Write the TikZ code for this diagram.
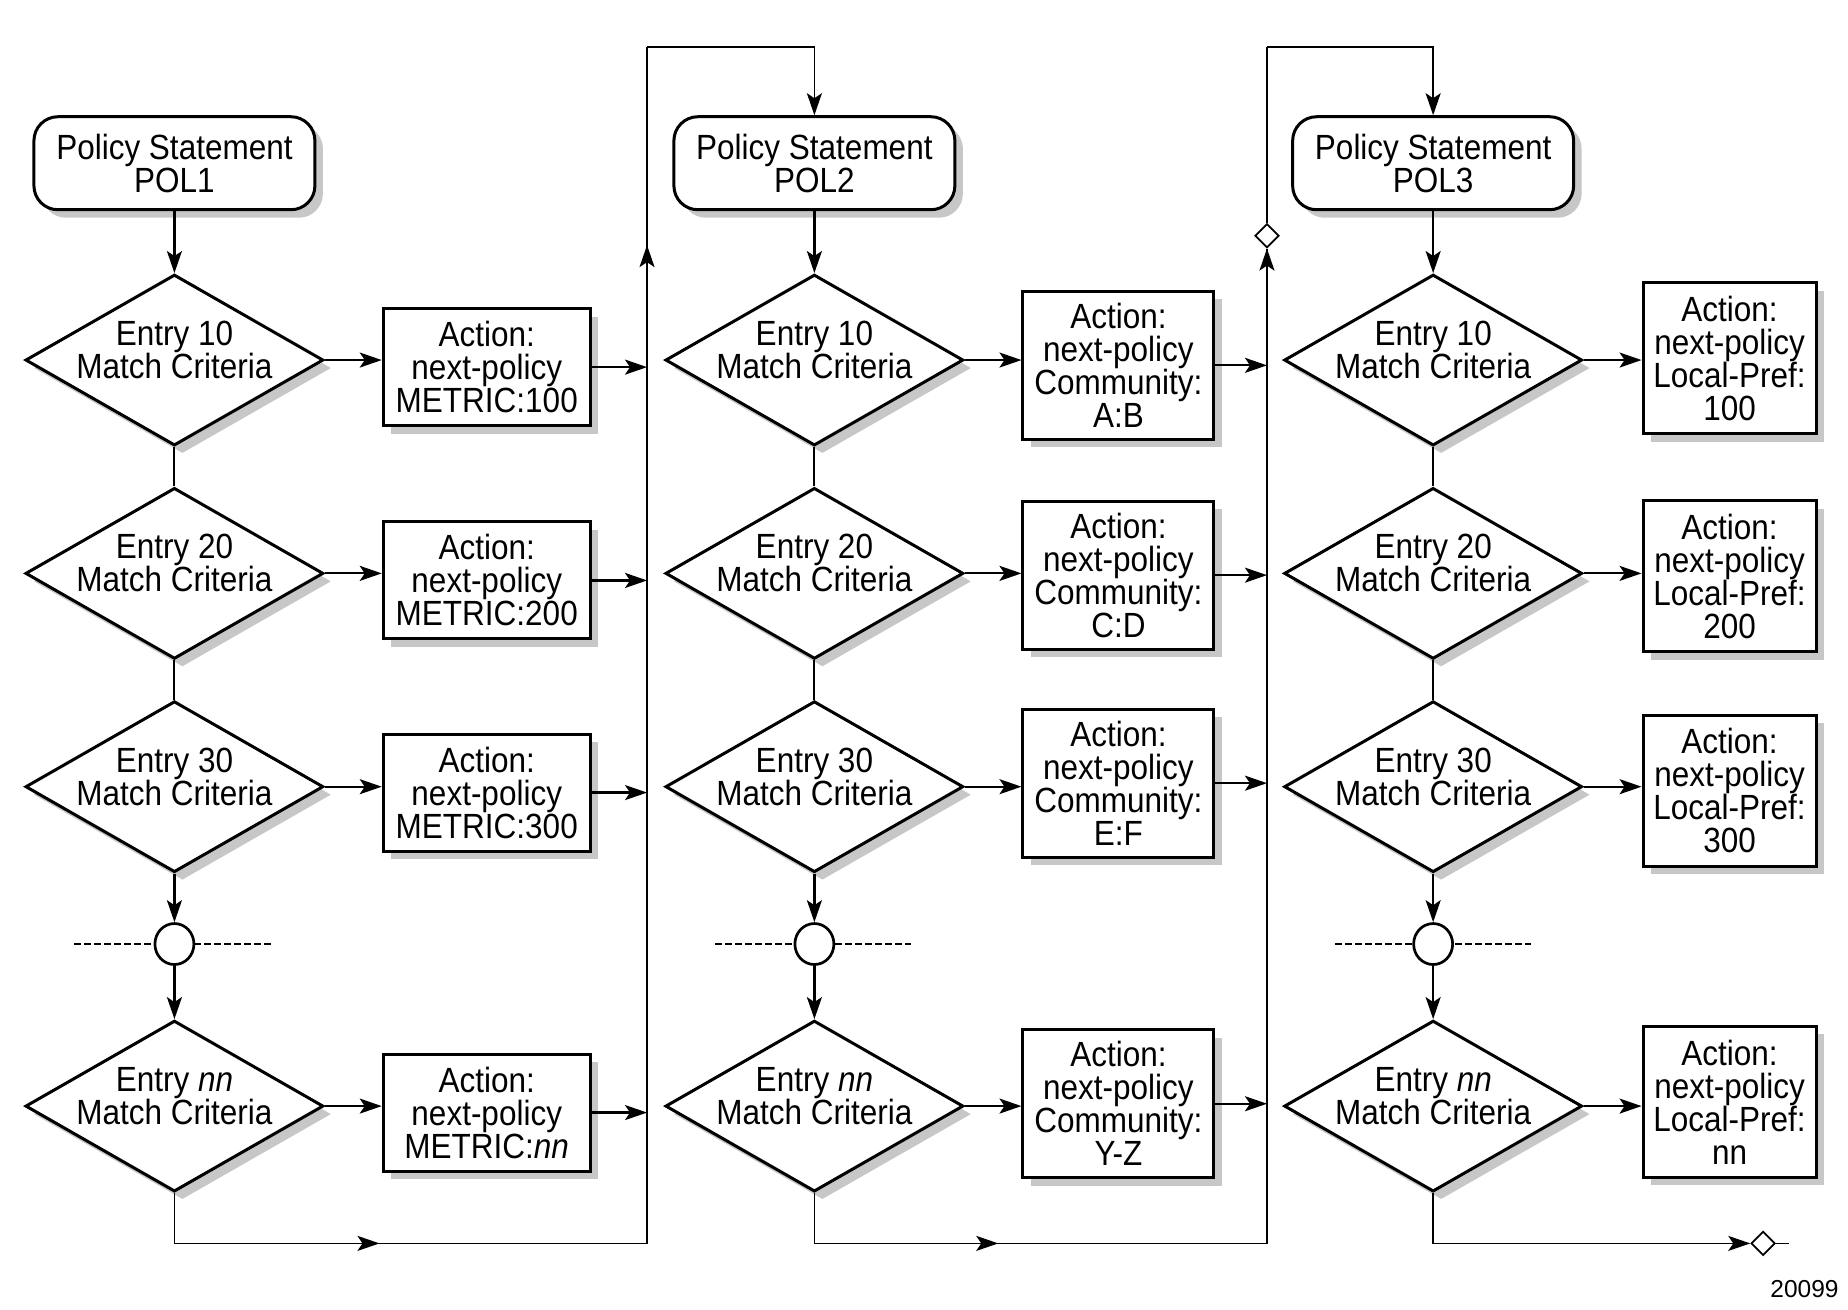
\documentclass[tikz,border=0pt]{standalone}
\usepackage{fontspec}
\setmainfont{Liberation Sans}[FakeStretch=0.9]
\newfontfamily\plainfont{Liberation Sans}
\usetikzlibrary{shapes.geometric,arrows.meta,shadows}
\begin{document}
\begin{tikzpicture}[x=1.1786pt,y=-1.1786pt,
  every node/.style={font=\fontsize{35}{33}\selectfont},
  shad/.style={drop shadow={shadow xshift=8pt,shadow yshift=-8pt,fill=black!22,opacity=1}},
  polbox/.style={draw,line width=3pt,rounded corners=24pt,minimum width=281pt,minimum height=93pt,align=center,fill=white,shad},
  dia/.style={draw,diamond,line width=3pt,minimum width=298pt,minimum height=171pt,inner sep=0pt,fill=white,shad},
  boxa/.style={draw,line width=3pt,minimum width=207pt,minimum height=117pt,align=center,fill=white,shad,inner sep=2pt},
  boxb/.style={draw,line width=3pt,minimum width=191pt,minimum height=148pt,align=center,fill=white,shad,inner sep=2pt},
  boxc/.style={draw,line width=3pt,minimum width=173pt,minimum height=151pt,align=center,fill=white,shad,inner sep=2pt},
  conn/.style={draw,ellipse,line width=2.7pt,minimum width=39pt,minimum height=41pt,inner sep=0pt,fill=white},
  smalldia/.style={draw,diamond,line width=1.8pt,minimum width=24pt,minimum height=24pt,inner sep=0pt,fill=white},
  tip/.style={-{Stealth[length=22pt,width=15pt,inset=5pt]}},
  arr/.style={tip,line width=2.2pt},
  lnk/.style={line width=2pt},
  thinl/.style={line width=1.8pt},
  thinarr/.style={tip,line width=1.8pt},
  dashline/.style={line width=2pt,dash pattern=on 6.5pt off 3.5pt}
]
\useasboundingbox (0,0) rectangle (1568,1110.7);

% ---------- Column 1 ----------
\node[polbox] (p1) at (148,138.5) {Policy Statement\\POL1};
\node[dia,label={[align=center,yshift=10pt]center:{Entry 10\\Match Criteria}}] (d11) at (148,305.5) {};
\node[dia,label={[align=center,yshift=10pt]center:{Entry 20\\Match Criteria}}] (d12) at (148,486.5) {};
\node[dia,label={[align=center,yshift=10pt]center:{Entry 30\\Match Criteria}}] (d13) at (148,667.5) {};
\node[dia,label={[align=center,yshift=10pt]center:{Entry \textit{nn}\\Match Criteria}}] (d14) at (148,938.5) {};
\node[boxa] (a11) at (413,311.5) {Action:\\next-policy\\METRIC:100};
\node[boxa] (a12) at (413,492.5) {Action:\\next-policy\\METRIC:200};
\node[boxa] (a13) at (413,672.5) {Action:\\next-policy\\METRIC:300};
\node[boxa] (a14) at (413,944) {Action:\\next-policy\\METRIC:\textit{nn}};
\coordinate (l1) at (63,801);
\coordinate (r1) at (230,801);
\draw[dashline] (l1) -- (r1);
\node[conn] (c1) at (148,801) {};

% ---------- Column 2 ----------
\node[polbox] (p2) at (691,138.5) {Policy Statement\\POL2};
\node[dia,label={[align=center,yshift=10pt]center:{Entry 10\\Match Criteria}}] (d21) at (691,305.5) {};
\node[dia,label={[align=center,yshift=10pt]center:{Entry 20\\Match Criteria}}] (d22) at (691,486.5) {};
\node[dia,label={[align=center,yshift=10pt]center:{Entry 30\\Match Criteria}}] (d23) at (691,667.5) {};
\node[dia,label={[align=center,yshift=10pt]center:{Entry \textit{nn}\\Match Criteria}}] (d24) at (691,938.5) {};
\node[boxb] (a21) at (949,310) {Action:\\next-policy\\Community:\\A:B};
\node[boxb] (a22) at (949,488) {Action:\\next-policy\\Community:\\C:D};
\node[boxb] (a23) at (949,664.5) {Action:\\next-policy\\Community:\\E:F};
\node[boxb] (a24) at (949,936.5) {Action:\\next-policy\\Community:\\Y-Z};
\coordinate (l2) at (607,801);
\coordinate (r2) at (773,801);
\draw[dashline] (l2) -- (r2);
\node[conn] (c2) at (691,801) {};

% ---------- Column 3 ----------
\node[polbox] (p3) at (1216,138.5) {Policy Statement\\POL3};
\node[dia,label={[align=center,yshift=10pt]center:{Entry 10\\Match Criteria}}] (d31) at (1216,305.5) {};
\node[dia,label={[align=center,yshift=10pt]center:{Entry 20\\Match Criteria}}] (d32) at (1216,486.5) {};
\node[dia,label={[align=center,yshift=10pt]center:{Entry 30\\Match Criteria}}] (d33) at (1216,667.5) {};
\node[dia,label={[align=center,yshift=10pt]center:{Entry \textit{nn}\\Match Criteria}}] (d34) at (1216,938.5) {};
\node[boxc] (a31) at (1467.5,304) {Action:\\next-policy\\Local-Pref:\\100};
\node[boxc] (a32) at (1467.5,489) {Action:\\next-policy\\Local-Pref:\\200};
\node[boxc] (a33) at (1467.5,671) {Action:\\next-policy\\Local-Pref:\\300};
\node[boxc] (a34) at (1467.5,935) {Action:\\next-policy\\Local-Pref:\\nn};
\coordinate (l3) at (1133,801);
\coordinate (r3) at (1299,801);
\draw[dashline] (l3) -- (r3);
\node[conn] (c3) at (1216,801) {};

% ---------- bus coordinates ----------
\coordinate (b1top) at (549,40);
\coordinate (b1bot) at (549,1055);
\coordinate (u1) at (549,208);
\coordinate (m1) at (322,1055);
\coordinate (b2top) at (1075,40);
\coordinate (b2bot) at (1075,1055);
\coordinate (m2) at (847,1055);
\node[smalldia] (sd2) at (1075,200) {};
\node[smalldia] (fd) at (1496,1055) {};
\coordinate (e3) at (1518,1055);

% ---------- vertical flows ----------
\foreach \c in {1,2,3}{
  \draw[arr] (p\c.south) -- (d\c1.north);
  \draw[lnk] (d\c1.south) -- (d\c2.north);
  \draw[lnk] (d\c2.south) -- (d\c3.north);
  \draw[arr] (d\c3.south) -- (c\c.north);
  \draw[arr] (c\c.south) -- (d\c4.north);
}

% ---------- diamond -> action ----------
\foreach \c in {1,2,3}{
  \foreach \r in {1,2,3,4}{
    \draw[arr] (d\c\r.east) -- (d\c\r.east -| a\c\r.west);
  }
}

% ---------- action -> bus ----------
\foreach \r in {1,2,3,4}{
  \draw[arr] (a1\r.east) -- (a1\r.east -| b1top);
  \draw[arr] (a2\r.east) -- (a2\r.east -| b2top);
}

% ---------- bus 1 ----------
\draw[thinl] (d14.south) |- (b1bot) -- (b1top);
\draw[thinarr] (d14.south |- b1bot) -- (m1);
\draw[thinarr] (b1bot) -- (u1);
\draw[thinarr] (b1top) -| (p2.north);

% ---------- bus 2 ----------
\draw[thinl] (d24.south) |- (b2bot) -- (sd2.south);
\draw[thinarr] (d24.south |- b2bot) -- (m2);
\draw[thinarr] (b2bot) -- (sd2.south);
\draw[thinl] (sd2.north) -- (b2top);
\draw[thinarr] (b2top) -| (p3.north);

% ---------- end of column 3 ----------
\draw[thinarr] (d34.south) |- (fd.west);
\draw[thinl] (fd.east) -- (e3);

\node[font=\plainfont\fontsize{24.5}{26}\selectfont,anchor=east] (fig) at (1563,1094) {20099};
\end{tikzpicture}
\end{document}
